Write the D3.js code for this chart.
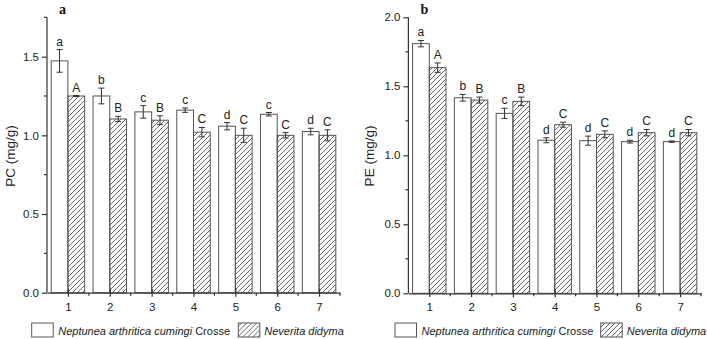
<!DOCTYPE html>
<html>
<head>
<meta charset="utf-8">
<script src="https://cdn.jsdelivr.net/npm/d3@7"></script>
<style>
  body { margin: 0; background: #fff; }
  svg { display: block; font-family: "Liberation Sans", Arial, sans-serif; }
</style>
</head>
<body>
<div class="chart"></div>
<script>
// categories on x
var groups = [1, 2, 3, 4, 5, 6, 7];
var seriesNames = ["Neptunea arthritica cumingi", "Neverita didyma"];

// panel a: PC (mg/g)
var pcNeptunea = [1.473, 1.25, 1.149, 1.16, 1.058, 1.134, 1.024];
var pcNeptuneaErr = [0.072, 0.05, 0.04, 0.014, 0.023, 0.011, 0.021];
var pcNeverita = [1.25, 1.104, 1.096, 1.02, 1.0, 1.0, 1.0];
var pcNeveritaErr = [0.003, 0.017, 0.028, 0.03, 0.045, 0.017, 0.035];
var pcNeptuneaLetters = ["a", "b", "c", "c", "d", "c", "d"];
var pcNeveritaLetters = ["A", "B", "B", "C", "C", "C", "C"];
var pcTicks = [0, 0.5, 1.0, 1.5];

// panel b: PE (mg/g)
var peNeptunea = [1.809, 1.417, 1.304, 1.109, 1.106, 1.099, 1.099];
var peNeptuneaErr = [0.023, 0.024, 0.037, 0.018, 0.033, 0.01, 0.005];
var peNeverita = [1.635, 1.40, 1.391, 1.222, 1.152, 1.164, 1.164];
var peNeveritaErr = [0.034, 0.022, 0.031, 0.018, 0.025, 0.023, 0.023];
var peNeptuneaLetters = ["a", "b", "c", "d", "d", "d", "d"];
var peNeveritaLetters = ["A", "B", "B", "C", "C", "C", "C"];
var peTicks = [0, 0.5, 1.0, 1.5, 2.0];

var width = 707, height = 339;
var axisColor = "#333";

var svg = d3.select(".chart")
    .append("svg")
    .attr("width", width)
    .attr("height", height);

// hatch pattern for the second series
svg.append("defs")
    .append("pattern")
    .attr("id", "hatch")
    .attr("patternUnits", "userSpaceOnUse")
    .attr("width", 5)
    .attr("height", 5)
    .append("path")
    .attr("d", "M0,5 L5,0 M-1,1 L1,-1 M4,6 L6,4")
    .attr("stroke", "#444")
    .attr("stroke-width", 0.8);

function drawPanel(p) {
    var x = d3.scaleLinear().domain([0.5, 7.5]).range([p.left, p.right]);
    var y = d3.scaleLinear().domain([0, p.ymax]).range([p.bottom, p.top]);
    var barW = x(1.4) - x(1);

    var g = svg.append("g");

    var series = [
        { vals: p.a, err: p.aErr, letters: p.aLetters, off: -0.4, fill: "#fff" },
        { vals: p.b, err: p.bErr, letters: p.bLetters, off: 0, fill: "url(#hatch)" }
    ];

    series.forEach(function(s) {
        var rows = groups.map(function(grp, i) {
            return { g: grp, v: s.vals[i], e: s.err[i], l: s.letters[i] };
        });

        g.selectAll(null)
            .data(rows)
            .enter()
            .append("rect")
            .attr("x", function(d) { return x(d.g + s.off); })
            .attr("y", function(d) { return y(d.v); })
            .attr("width", barW)
            .attr("height", function(d) { return y(0) - y(d.v); })
            .attr("fill", s.fill)
            .attr("stroke", "#555")
            .attr("stroke-width", 1);

        var eb = g.selectAll(null)
            .data(rows)
            .enter()
            .append("g")
            .attr("stroke", axisColor)
            .attr("stroke-width", 1);

        eb.append("line")
            .attr("x1", function(d) { return x(d.g + s.off + 0.2); })
            .attr("x2", function(d) { return x(d.g + s.off + 0.2); })
            .attr("y1", function(d) { return y(d.v + d.e); })
            .attr("y2", function(d) { return y(d.v - d.e); });

        [1, -1].forEach(function(sign) {
            eb.append("line")
                .attr("x1", function(d) { return x(d.g + s.off + 0.2) - 3; })
                .attr("x2", function(d) { return x(d.g + s.off + 0.2) + 3; })
                .attr("y1", function(d) { return y(d.v + sign * d.e); })
                .attr("y2", function(d) { return y(d.v + sign * d.e); });
        });

        g.selectAll(null)
            .data(rows)
            .enter()
            .append("text")
            .attr("x", function(d) { return x(d.g + s.off + 0.2); })
            .attr("y", function(d) { return y(d.v + d.e) - 4; })
            .attr("text-anchor", "middle")
            .attr("font-size", 12)
            .attr("fill", "#222")
            .text(function(d) { return d.l; });
    });

    // y axis with minor ticks
    var yAxis = d3.axisLeft(y).tickValues(p.yticks).tickFormat(d3.format(".1f")).tickSize(5).tickPadding(3);
    var ya = g.append("g")
        .attr("transform", "translate(" + p.left + ",0)")
        .call(yAxis);
    ya.select(".domain").attr("d", "M0," + y(p.ymax) + "V" + y(0));
    var minorY = d3.range(0.25, p.ymax + 0.01, 0.5);
    ya.selectAll(".minor")
        .data(minorY)
        .enter()
        .append("line")
        .attr("x1", -3)
        .attr("x2", 0)
        .attr("y1", function(d) { return y(d); })
        .attr("y2", function(d) { return y(d); });

    // x axis with crossing major ticks and minor ticks between groups
    var xAxis = d3.axisBottom(x).tickValues(groups).tickFormat(d3.format("d")).tickSizeInner(4).tickSizeOuter(0).tickPadding(6);
    var xa = g.append("g")
        .attr("transform", "translate(0," + y(0) + ")")
        .call(xAxis);
    xa.selectAll(".tick line").attr("y1", -4);
    xa.selectAll(".minor")
        .data(d3.range(1.5, 7.6, 1))
        .enter()
        .append("line")
        .attr("x1", function(d) { return x(d); })
        .attr("x2", function(d) { return x(d); })
        .attr("y1", 0)
        .attr("y2", 3);

    [ya, xa].forEach(function(a) {
        a.selectAll("path, line").attr("stroke", axisColor).attr("stroke-width", 1.2);
        a.selectAll("text").attr("font-size", 11.5).attr("fill", "#222").attr("font-family", "Liberation Sans, Arial, sans-serif");
    });

    // y title
    g.append("text")
        .attr("transform", "translate(" + p.titleX + "," + 156 + ") rotate(-90)")
        .attr("text-anchor", "middle")
        .attr("font-size", 13.5)
        .attr("fill", "#222")
        .text(p.title);

    // panel letter
    g.append("text")
        .attr("x", p.left + 12)
        .attr("y", 14)
        .attr("font-family", "Liberation Serif, Times New Roman, serif")
        .attr("font-weight", "bold")
        .attr("font-size", 14)
        .attr("fill", "#111")
        .text(p.letter);

    // legend
    var lg = g.append("g").attr("transform", "translate(" + p.legX + ",323)");
    lg.append("rect").attr("x", 0).attr("y", 0).attr("width", 21.5).attr("height", 14)
        .attr("fill", "#fff").attr("stroke", "#555");
    var t1 = lg.append("text").attr("x", 26.5).attr("y", 11.5).attr("font-size", 11).attr("fill", "#222");
    t1.append("tspan").attr("font-style", "italic").text(seriesNames[0]);
    t1.append("tspan").text(" Crosse");
    lg.append("rect").attr("x", p.legX2).attr("y", 0).attr("width", 21.5).attr("height", 14)
        .attr("fill", "url(#hatch)").attr("stroke", "#555");
    lg.append("text").attr("x", p.legX2 + 26).attr("y", 11.5).attr("font-size", 11)
        .attr("font-style", "italic").attr("fill", "#222")
        .text(seriesNames[1]);
}

drawPanel({
    left: 47, right: 340, top: 17.3, bottom: 292.7, ymax: 1.75, yticks: pcTicks,
    a: pcNeptunea, aErr: pcNeptuneaErr, aLetters: pcNeptuneaLetters,
    b: pcNeverita, bErr: pcNeveritaErr, bLetters: pcNeveritaLetters,
    title: "PC (mg/g)", titleX: 15, letter: "a", legX: 31.7, legX2: 206.6
});

drawPanel({
    left: 408.4, right: 701, top: 17.3, bottom: 293.3, ymax: 2.0, yticks: peTicks,
    a: peNeptunea, aErr: peNeptuneaErr, aLetters: peNeptuneaLetters,
    b: peNeverita, bErr: peNeveritaErr, bLetters: peNeveritaLetters,
    title: "PE (mg/g)", titleX: 374, letter: "b", legX: 395, legX2: 205.7
});
</script>
</body>
</html>
